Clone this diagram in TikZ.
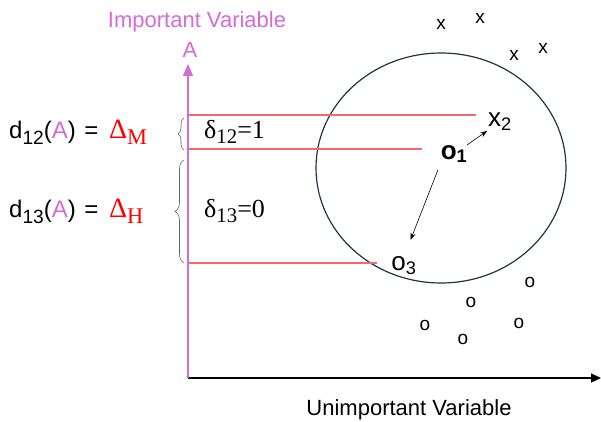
\documentclass[tikz,border=0pt]{standalone}
\usepackage{fontspec}
\setmainfont{Liberation Sans}
\newfontfamily\serifface{Liberation Serif}
\usepackage{xcolor}
\usetikzlibrary{arrows.meta,decorations.pathreplacing}
\definecolor{axispink}{HTML}{D36CD3}
\definecolor{guidered}{HTML}{F26B6B}
\definecolor{ringblue}{HTML}{1E3447}
\newcommand{\lowsub}[1]{\raisebox{-0.45ex}{\scalebox{0.8}{#1}}}

\begin{document}
\begin{tikzpicture}[x=1pt, y=-1pt,
  every node/.style={inner sep=0pt, font=\fontsize{22}{26}\selectfont},
  guide/.style={draw=guidered, line width=1.2pt},
  bracegray/.style={draw=gray!80!black, line width=0.6pt, decorate, decoration={brace, amplitude=#1}},
  pointmark/.style={font=\fontsize{19}{22}\selectfont},
  bigpoint/.style={font=\fontsize{26}{30}\selectfont},
  pointer/.style={-{Stealth[length=7pt,width=5pt]}, line width=0.6pt},
  sidelabel/.style={anchor=west, font=\fontsize{24}{28}\selectfont},
  deltalabel/.style={anchor=west, font=\serifface\fontsize{26}{30}\selectfont}]
\useasboundingbox (0,0) rectangle (601,422);

% axes
\coordinate (origin) at (188,378);
\coordinate (ytop) at (188,64);
\coordinate (xend) at (601,378);
\draw[line width=1.2pt, -{Triangle[length=10pt,width=9pt]}] (origin) -- (xend);
\draw[axispink, line width=1.2pt, -{Triangle[length=12pt,width=10pt]}] (origin) -- (ytop);
\node[text=axispink] (yname) at (197,22) {Important Variable};
\node[text=axispink] (ylabel) at (190,50) {A};
\node (xname) at (409,410) {Unimportant Variable};

% neighbourhood
\draw[ringblue, line width=1.2pt] (441,168) ellipse [x radius=125, y radius=115];

% points
\node[bigpoint] (x2) at (500,122) {x\textsubscript{2}};
\node[bigpoint, font=\bfseries\fontsize{26}{30}\selectfont] (o1) at (454,154) {o\textsubscript{1}};
\node[bigpoint] (o3) at (404,266) {o\textsubscript{3}};
\foreach \px/\py [count=\i] in {441/24, 480/18, 514/55, 543/48}
  \node[pointmark] (cross\i) at (\px,\py) {x};
\foreach \px/\py [count=\i] in {530/282, 471/302, 425/325, 463/339, 519/323}
  \node[pointmark] (ring\i) at (\px,\py) {o};
\draw[pointer, shorten >=1] (o1) -- (x2);
\draw[pointer, shorten <=7, shorten >=18] (o1.south west) -- (o3.north);

% guides to the axis
\coordinate (g1) at (188,115);
\coordinate (g2) at (188,149);
\coordinate (g3) at (188,263);
\draw[guide] (g1) -- ([xshift=-12]x2.west |- g1);
\draw[guide] (g2) -- ([xshift=-19]o1.west |- g2);
\draw[guide] (g3) -- ([xshift=-14]o3.west |- g3);

% braces and labels
\draw[bracegray=6pt] (184,150) -- (184,118);
\draw[bracegray=9pt] (184,263) -- (184,160);
\node[sidelabel] (dist12) at (9,132) {d\lowsub{12}(\textcolor{axispink}{A})\hspace{0.35em}=\hspace{0.45em}\textcolor{red}{\serifface\fontsize{28}{31}\selectfont Δ\lowsub{M}}};
\node[sidelabel] (dist13) at (9,211) {d\lowsub{13}(\textcolor{axispink}{A})\hspace{0.35em}=\hspace{0.45em}\textcolor{red}{\serifface\fontsize{28}{31}\selectfont Δ\lowsub{H}}};
\node[deltalabel] (delta12) at (204,132) {δ\lowsub{12}=1};
\node[deltalabel] (delta13) at (204,211) {δ\lowsub{13}=0};
\end{tikzpicture}
\end{document}
